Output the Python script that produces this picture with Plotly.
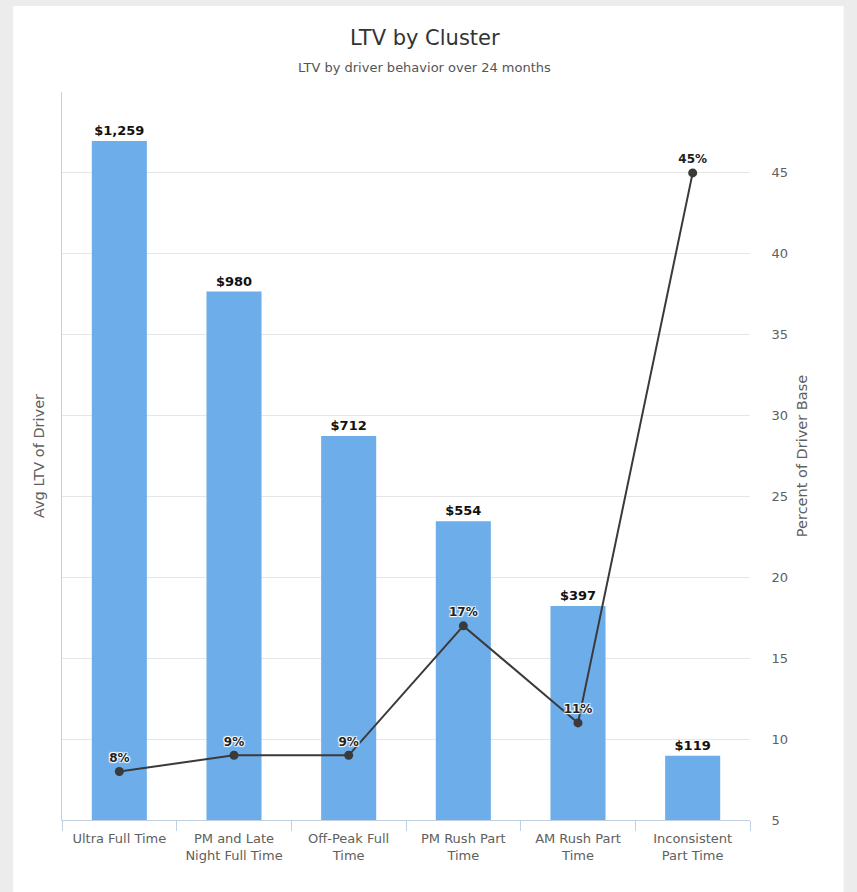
import plotly.graph_objects as go

# Data
clusters = [
    "Ultra Full Time",
    "PM and Late<br>Night Full Time",
    "Off-Peak Full<br>Time",
    "PM Rush Part<br>Time",
    "AM Rush Part<br>Time",
    "Inconsistent<br>Part Time",
]
avg_ltv = [1259, 980, 712, 554, 397, 119]
pct_driver_base = [8, 9, 9, 17, 11, 45]
pct_ticks = [5, 10, 15, 20, 25, 30, 35, 40, 45]

FONT = "DejaVu Sans"
LABEL_GREY = "#606060"


def main():
    fig = go.Figure()

    # Bars: average LTV per cluster (left axis)
    fig.add_trace(
        go.Bar(
            x=clusters,
            y=avg_ltv,
            name="Avg LTV",
            width=0.48,
            marker=dict(color="#6daeea", line=dict(width=0)),
            texttemplate="$%{y:,.0f}",
            textposition="outside",
            textfont=dict(family=FONT, size=13, color="#111111", weight="bold"),
            cliponaxis=False,
        )
    )

    # Line: share of driver base (right axis)
    fig.add_trace(
        go.Scatter(
            x=clusters,
            y=pct_driver_base,
            yaxis="y2",
            name="Percent of Driver Base",
            mode="lines+markers+text",
            line=dict(color="#3a3a3a", width=2),
            marker=dict(color="#3a3a3a", size=9),
            text=[f"{v}%" for v in pct_driver_base],
            textposition="top center",
            textfont=dict(
                family=FONT, size=12, color="#222222", weight="bold",
                shadow="1px 1px 1px white, -1px -1px 1px white, 1px -1px 1px white, -1px 1px 1px white",
            ),
            cliponaxis=False,
        )
    )

    fig.update_layout(
        width=857,
        height=892,
        margin=dict(l=62, r=107, t=92, b=72),
        paper_bgcolor="#ececec",
        plot_bgcolor="white",
        showlegend=False,
        font=dict(family=FONT, size=12, color=LABEL_GREY),
        xaxis=dict(
            showgrid=False,
            showline=True,
            linecolor="#c0d0e0",
            linewidth=1,
            ticks="outside",
            tickson="boundaries",
            ticklen=10,
            tickcolor="#c0d0e0",
            ticklabelstandoff=6,
            tickfont=dict(size=13, color=LABEL_GREY),
            tickangle=0,
        ),
        yaxis=dict(
            range=[0, 1350],
            tick0=0,
            dtick=150,
            showgrid=True,
            gridcolor="#e6e6e6",
            showticklabels=False,
            showline=True,
            linecolor="#c0d0e0",
            zeroline=False,
            title=dict(text="Avg LTV of Driver", font=dict(size=14.5, color=LABEL_GREY), standoff=12),
        ),
        yaxis2=dict(
            overlaying="y",
            side="right",
            range=[5, 50],
            tickvals=pct_ticks,
            showgrid=False,
            zeroline=False,
            showline=False,
            ticks="outside",
            ticklen=18,
            tickcolor="rgba(0,0,0,0)",
            tickfont=dict(size=13, color=LABEL_GREY),
            title=dict(text="Percent of Driver Base", font=dict(size=14.5, color=LABEL_GREY), standoff=9),
        ),
    )

    # White card behind the chart, grey frame around it
    fig.add_shape(
        type="rect",
        xref="paper",
        yref="paper",
        x0=-0.071,
        x1=1.136,
        y0=-0.11,
        y1=1.118,
        fillcolor="white",
        line=dict(width=0),
        layer="below",
    )

    # Title and subtitle
    fig.add_annotation(
        text="LTV by Cluster",
        xref="paper", yref="paper",
        x=0.527, y=1.074,
        showarrow=False,
        font=dict(family=FONT, size=21, color="#333333"),
        yanchor="middle",
    )
    fig.add_annotation(
        text="LTV by driver behavior over 24 months",
        xref="paper", yref="paper",
        x=0.527, y=1.033,
        showarrow=False,
        font=dict(family=FONT, size=13, color="#555555"),
        yanchor="middle",
    )

    # Drop the page margin so the figure sits at the window's corner
    fig.write_html(
        "out.html",
        config={"displayModeBar": False},
        post_script="document.body.style.margin='0';document.body.style.background='#ececec';",
    )


if __name__ == "__main__":
    main()
